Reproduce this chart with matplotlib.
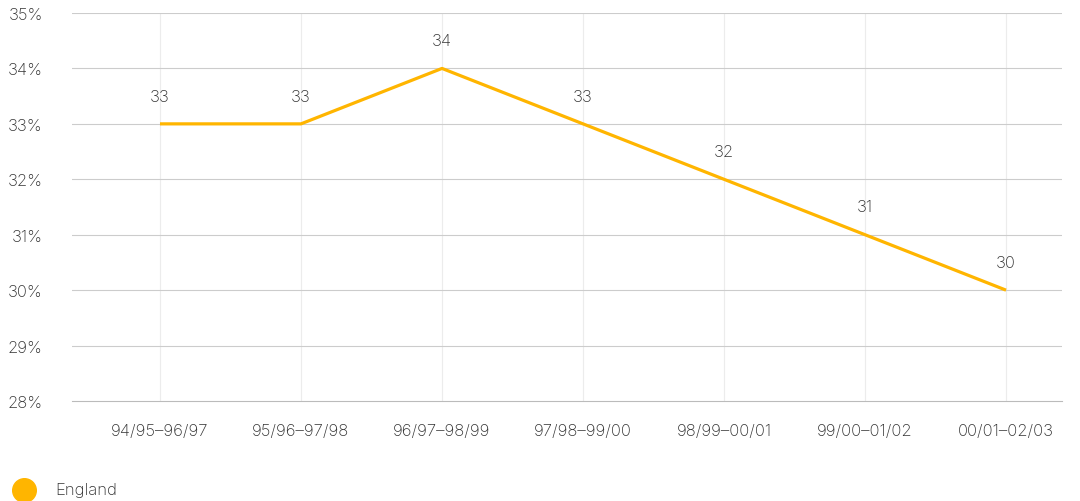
import numpy as np
import matplotlib
matplotlib.use('Agg')
import matplotlib.pyplot as plt
from matplotlib.lines import Line2D

plt.rcParams['font.family'] = ['Inter', 'DejaVu Sans']

periods = ['94/95–96/97', '95/96–97/98', '96/97–98/99', '97/98–99/00',
           '98/99–00/01', '99/00–01/02', '00/01–02/03']
england = [33, 33, 34, 33, 32, 31, 30]
yticks = [28, 29, 30, 31, 32, 33, 34, 35]

line_color = '#FFB500'
text_color = '#333333'

fig = plt.figure(figsize=(10.8, 5.02), dpi=100)
ax = fig.add_axes([72/1080, 1 - 402/502, (1062 - 72)/1080, (402 - 14)/502])

x = np.arange(len(periods))
ax.plot(x, england, color=line_color, lw=2.3, solid_capstyle='butt', zorder=3)
for xi, v in zip(x, england):
    ax.annotate(str(v), (xi, v), xytext=(0, 20), textcoords='offset points',
                ha='center', va='center', fontsize=12, color=text_color,
                fontweight='light')

ax.set_xlim(-0.624, 6.397)
ax.set_ylim(28, 35)
ax.set_yticks(yticks)
ax.set_yticklabels([f'{t}%' for t in yticks])
ax.set_xticks(x)
ax.set_xticklabels(periods)

# grid: solid horizontal lines, faint vertical ones at each period
for t in yticks[1:]:
    ax.axhline(t, color='#cccccc', lw=0.8, zorder=1)
for xi in x:
    ax.axvline(xi, color='#ececec', lw=0.8, zorder=0)

for s in ['top', 'right', 'left']:
    ax.spines[s].set_visible(False)
ax.spines['bottom'].set_color('#bbbbbb')
ax.spines['bottom'].set_linewidth(0.8)
ax.tick_params(length=0, colors=text_color, labelsize=12)
ax.tick_params(axis='y', pad=21)
ax.tick_params(axis='x', pad=16)
for lab in ax.get_xticklabels() + ax.get_yticklabels():
    lab.set_fontweight('light')

# legend
fig.add_artist(Line2D([24/1080], [1 - 491/502], marker='o', markersize=17,
                      color=line_color, linestyle='none', transform=fig.transFigure))
fig.text(55/1080, 1 - 491/502, 'England', ha='left', va='center',
         fontsize=12, color=text_color, fontweight='light')

fig.savefig('out.png', dpi=100)
